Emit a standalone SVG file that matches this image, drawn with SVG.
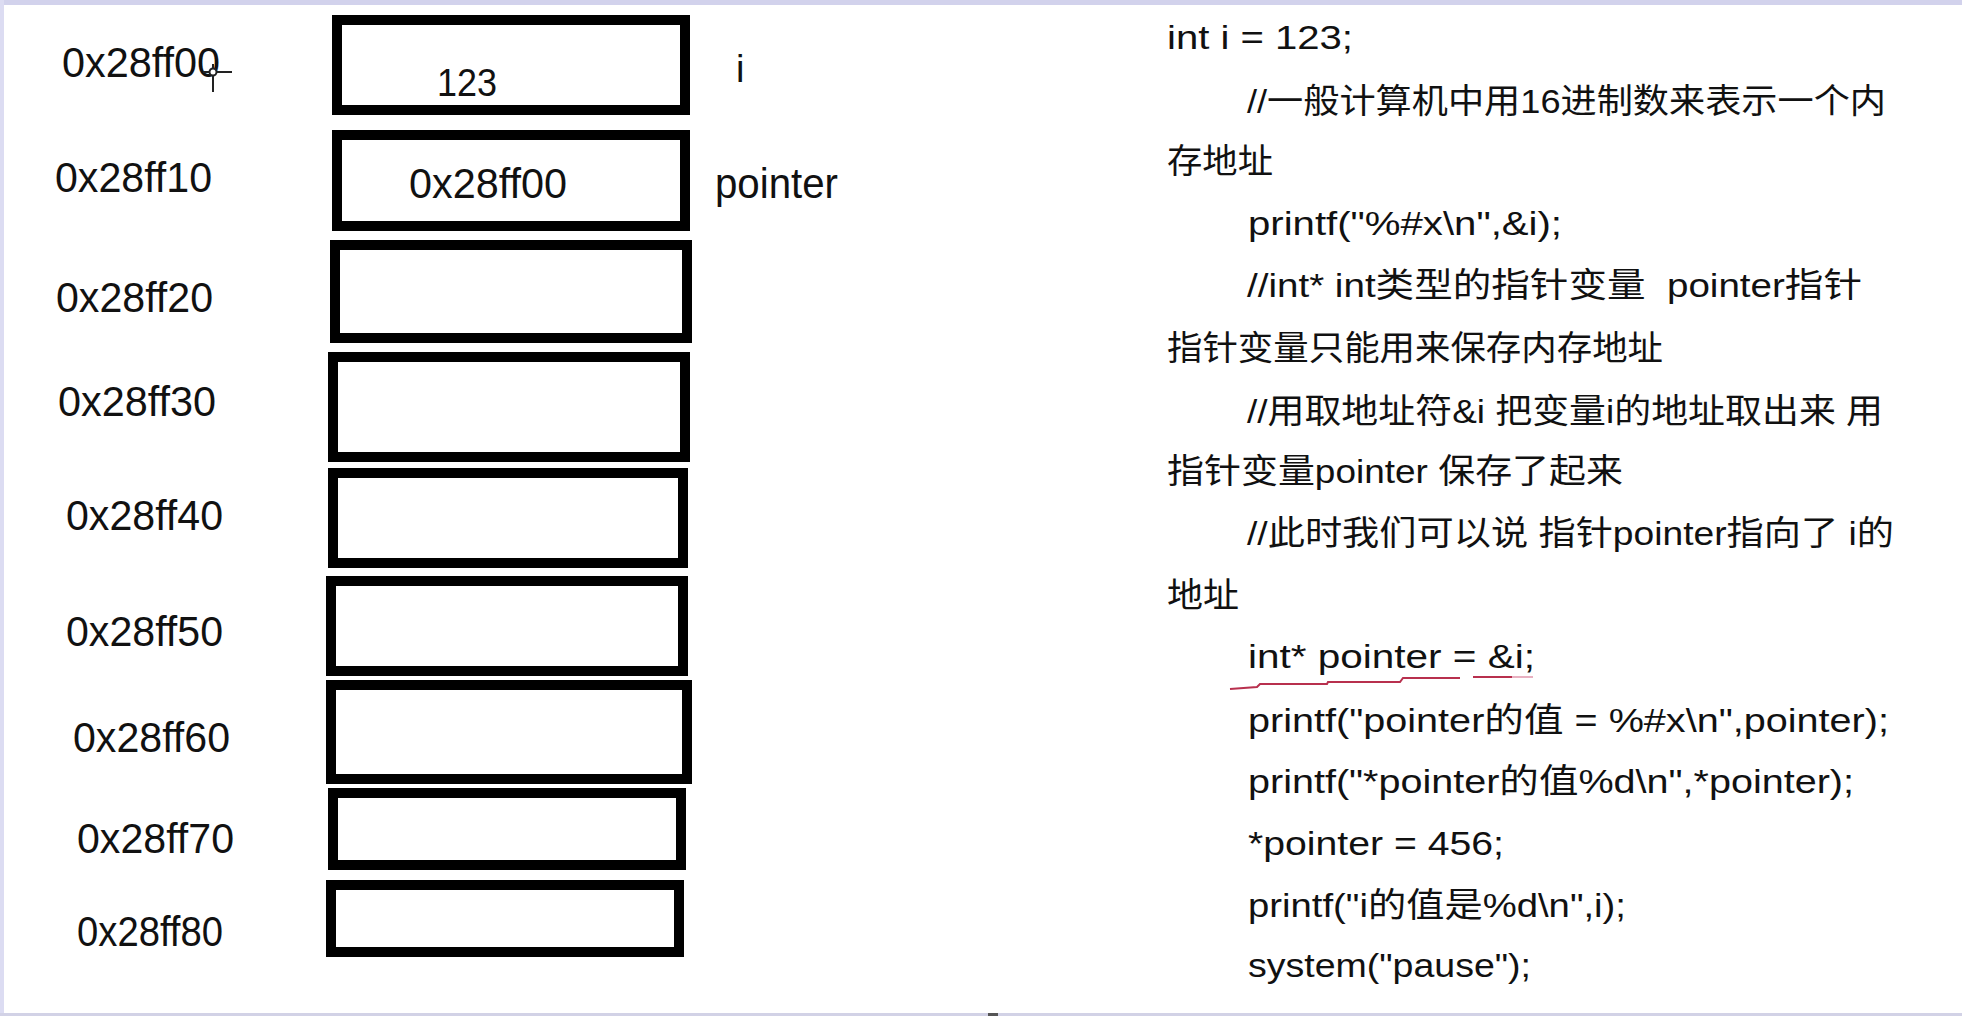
<svg xmlns="http://www.w3.org/2000/svg" width="1962" height="1016" viewBox="0 0 1962 1016">
  <style>
    .cell { fill: #ffffff; stroke: #000000; stroke-width: 10; }
    .addr { font-family: "Liberation Sans", "Noto Sans CJK SC", sans-serif; font-size: 42px; fill: #111111; }
    .val { font-family: "Liberation Sans", "Noto Sans CJK SC", sans-serif; font-size: 38px; fill: #111111; }
    .code { font-family: "Liberation Sans", "Noto Sans CJK SC", sans-serif; font-size: 34px; fill: #111111; white-space: pre; }
  </style>
  <rect x="0" y="0" width="1962" height="1016" fill="#ffffff"/>
  <rect x="0" y="0" width="1962" height="5" fill="#d2d2ec"/>
  <rect x="0" y="0" width="4" height="1016" fill="#dcdcf2"/>
  <rect x="0" y="1013" width="1962" height="3" fill="#d2d2e6"/>
  <rect x="988" y="1013" width="10" height="3" fill="#555555"/>

  <g id="cell-0x28ff00">
    <rect class="cell" x="337" y="20" width="348" height="90"/>
    <text class="addr" x="62" y="77" textLength="158" lengthAdjust="spacingAndGlyphs">0x28ff00</text>
    <text class="val" x="437" y="96" textLength="60" lengthAdjust="spacingAndGlyphs">123</text>
    <text class="val" x="736" y="82" font-size="40">i</text>
  </g>
  <g id="cell-0x28ff10">
    <rect class="cell" x="337" y="135" width="348" height="91"/>
    <text class="addr" x="55" y="192" textLength="157" lengthAdjust="spacingAndGlyphs">0x28ff10</text>
    <text class="addr" x="409" y="198" textLength="158" lengthAdjust="spacingAndGlyphs">0x28ff00</text>
    <text class="addr" x="715" y="198" textLength="123" lengthAdjust="spacingAndGlyphs">pointer</text>
  </g>
  <g id="cell-0x28ff20">
    <rect class="cell" x="335" y="245" width="352" height="93"/>
    <text class="addr" x="56" y="312" textLength="157" lengthAdjust="spacingAndGlyphs">0x28ff20</text>
  </g>
  <g id="cell-0x28ff30">
    <rect class="cell" x="333" y="357" width="352" height="100"/>
    <text class="addr" x="58" y="416" textLength="158" lengthAdjust="spacingAndGlyphs">0x28ff30</text>
  </g>
  <g id="cell-0x28ff40">
    <rect class="cell" x="333" y="473" width="350" height="90"/>
    <text class="addr" x="66" y="530" textLength="157" lengthAdjust="spacingAndGlyphs">0x28ff40</text>
  </g>
  <g id="cell-0x28ff50">
    <rect class="cell" x="331" y="581" width="352" height="90"/>
    <text class="addr" x="66" y="646" textLength="157" lengthAdjust="spacingAndGlyphs">0x28ff50</text>
  </g>
  <g id="cell-0x28ff60">
    <rect class="cell" x="331" y="685" width="356" height="94"/>
    <text class="addr" x="73" y="752" textLength="157" lengthAdjust="spacingAndGlyphs">0x28ff60</text>
  </g>
  <g id="cell-0x28ff70">
    <rect class="cell" x="333" y="793" width="348" height="72"/>
    <text class="addr" x="77" y="853" textLength="157" lengthAdjust="spacingAndGlyphs">0x28ff70</text>
  </g>
  <g id="cell-0x28ff80">
    <rect class="cell" x="331" y="885" width="348" height="67"/>
    <text class="addr" x="77" y="946" font-size="37" textLength="146" lengthAdjust="spacingAndGlyphs">0x28ff80</text>
  </g>

  <g id="cursor" stroke="#222222" stroke-width="2" fill="none">
    <line x1="203" y1="72" x2="232" y2="72"/>
    <line x1="213" y1="64" x2="213" y2="92"/>
    <circle cx="213" cy="72" r="3.5" fill="#ffffff"/>
  </g>

  <g id="code">
    <text class="code" x="1167" y="49" textLength="186" lengthAdjust="spacingAndGlyphs">int i = 123;</text>
    <text class="code" x="1247" y="113" textLength="639" lengthAdjust="spacingAndGlyphs">//一般计算机中用16进制数来表示一个内</text>
    <text class="code" x="1167" y="173" textLength="106" lengthAdjust="spacingAndGlyphs">存地址</text>
    <text class="code" x="1248" y="235" textLength="314" lengthAdjust="spacingAndGlyphs">printf("%#x\n",&amp;i);</text>
    <text class="code" x="1247" y="297" textLength="615" lengthAdjust="spacingAndGlyphs">//int* int类型的指针变量  pointer指针</text>
    <text class="code" x="1167" y="360" textLength="496" lengthAdjust="spacingAndGlyphs">指针变量只能用来保存内存地址</text>
    <text class="code" x="1247" y="423" textLength="636" lengthAdjust="spacingAndGlyphs">//用取地址符&amp;i 把变量i的地址取出来 用</text>
    <text class="code" x="1167" y="483" textLength="456" lengthAdjust="spacingAndGlyphs">指针变量pointer 保存了起来</text>
    <text class="code" x="1247" y="545" textLength="647" lengthAdjust="spacingAndGlyphs">//此时我们可以说 指针pointer指向了 i的</text>
    <text class="code" x="1167" y="607" textLength="72" lengthAdjust="spacingAndGlyphs">地址</text>
    <text class="code" x="1248" y="668" textLength="287" lengthAdjust="spacingAndGlyphs">int* pointer = &amp;i;</text>
    <text class="code" x="1248" y="732" textLength="641" lengthAdjust="spacingAndGlyphs">printf("pointer的值 = %#x\n",pointer);</text>
    <text class="code" x="1248" y="793" textLength="606" lengthAdjust="spacingAndGlyphs">printf("*pointer的值%d\n",*pointer);</text>
    <text class="code" x="1248" y="855" textLength="256" lengthAdjust="spacingAndGlyphs">*pointer = 456;</text>
    <text class="code" x="1248" y="917" textLength="378" lengthAdjust="spacingAndGlyphs">printf("i的值是%d\n",i);</text>
    <text class="code" x="1248" y="977" textLength="283" lengthAdjust="spacingAndGlyphs">system("pause");</text>
  </g>

  <g id="annotation">
    <path d="M1230 689 L1257 687 L1260 684 L1327 684 L1328 682 L1400 682 L1403 678 L1460 678" fill="none" stroke="#b8304e" stroke-width="2"/>
    <path d="M1473 677 L1512 677" fill="none" stroke="#b8304e" stroke-width="2"/>
    <path d="M1512 677 L1533 677" fill="none" stroke="#e8b0c0" stroke-width="2"/>
  </g>
</svg>
